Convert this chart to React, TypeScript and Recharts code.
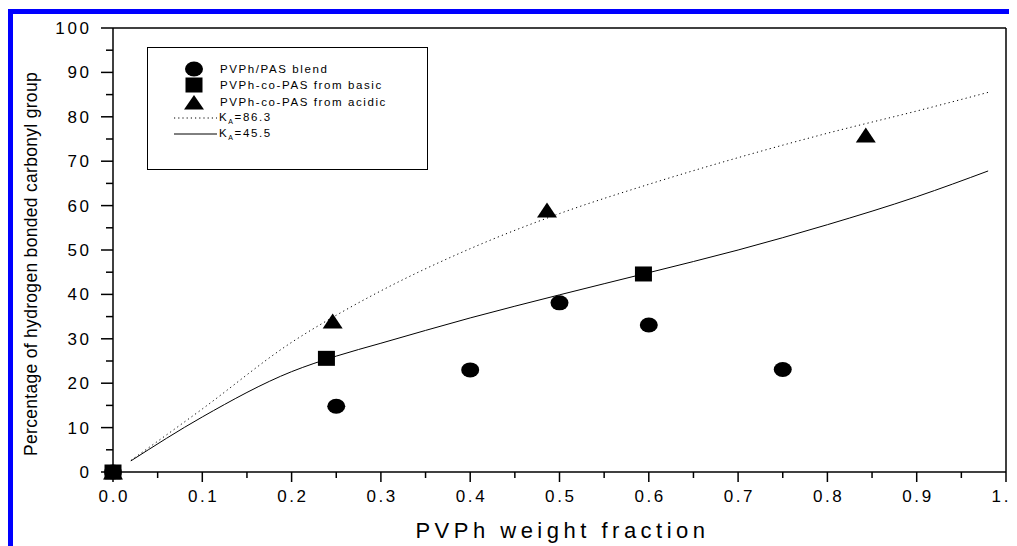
import React from "react"
import {
  ComposedChart,
  Line,
  Scatter,
  XAxis,
  YAxis,
  Legend,
  ReferenceLine,
} from "recharts"

// measured points
const blend = [
  { x: 0, y: 0 },
  { x: 0.25, y: 14.8 },
  { x: 0.4, y: 23 },
  { x: 0.5, y: 38.1 },
  { x: 0.6, y: 33.1 },
  { x: 0.75, y: 23.1 },
]
const basic = [
  { x: 0, y: 0 },
  { x: 0.239, y: 25.6 },
  { x: 0.594, y: 44.6 },
]
const acidic = [
  { x: 0, y: 0 },
  { x: 0.246, y: 34.0 },
  { x: 0.486, y: 59.0 },
  { x: 0.843, y: 75.9 },
]

// model curves
const ka863 = [
  { x: 0.02, y: 2.6 },
  { x: 0.1, y: 14.2 },
  { x: 0.2, y: 29.2 },
  { x: 0.25, y: 35.3 },
  { x: 0.3, y: 40.8 },
  { x: 0.4, y: 50.3 },
  { x: 0.5, y: 58.2 },
  { x: 0.6, y: 64.8 },
  { x: 0.7, y: 70.8 },
  { x: 0.8, y: 76.3 },
  { x: 0.9, y: 81.3 },
  { x: 0.98, y: 85.5 },
]
const ka455 = [
  { x: 0.02, y: 2.5 },
  { x: 0.1, y: 12.4 },
  { x: 0.2, y: 22.6 },
  { x: 0.25, y: 26.1 },
  { x: 0.3, y: 29.0 },
  { x: 0.4, y: 34.7 },
  { x: 0.5, y: 39.9 },
  { x: 0.6, y: 44.9 },
  { x: 0.7, y: 50.0 },
  { x: 0.8, y: 55.7 },
  { x: 0.9, y: 62.0 },
  { x: 0.98, y: 67.8 },
]

const xTicks = [0, 0.1, 0.2, 0.3, 0.4, 0.5, 0.6, 0.7, 0.8, 0.9, 1.0]
const xMinorTicks = [0.05, 0.15, 0.25, 0.35, 0.45, 0.55, 0.65, 0.75, 0.85, 0.95]
const yTicks = [0, 10, 20, 30, 40, 50, 60, 70, 80, 90, 100]
const yMinorTicks = [5, 15, 25, 35, 45, 55, 65, 75, 85, 95]

const allX = [...xTicks, ...xMinorTicks].sort((a, b) => a - b)
const allY = [...yTicks, ...yMinorTicks].sort((a, b) => a - b)

const font = "Arial, 'Liberation Sans', sans-serif"

const X_SIZE = 10
const X_MARGIN = 8
const Y_SIZE = 12
const Y_MARGIN = 9.5
const LW = 1.5

const Dot = (p: any) => <ellipse cx={p.cx} cy={p.cy} rx={9} ry={7.5} fill="#000" />
const Square = (p: any) => <rect x={p.cx - 8.5} y={p.cy - 7.5} width={17} height={15} fill="#000" />
const Tri = (p: any) => (
  <polygon points={`${p.cx - 10},${p.cy + 7.5} ${p.cx + 10},${p.cy + 7.5} ${p.cx},${p.cy - 7.5}`} fill="#000" />
)

function XTick(props: any) {
  const { x, y, payload } = props
  const major = xTicks.includes(payload.value)
  const y0 = y - X_SIZE - X_MARGIN
  return (
    <g>
      <line x1={x} x2={x} y1={y0} y2={y0 + (major ? X_SIZE : 6)} stroke="#000" strokeWidth={LW} />
      {major && (
        <text x={x + 1.3} y={y} dy="0.71em" textAnchor="middle" fontSize={17} fontFamily={font} letterSpacing={2.6} fill="#000">
          {payload.value.toFixed(1)}
        </text>
      )}
    </g>
  )
}

function YTick(props: any) {
  const { x, y, payload } = props
  const major = yTicks.includes(payload.value)
  const x0 = x + Y_SIZE + Y_MARGIN
  return (
    <g>
      <line x1={x0} x2={x0 - (major ? Y_SIZE : 7)} y1={y} y2={y} stroke="#000" strokeWidth={LW} />
      {major && (
        <text x={x} y={y} dy="0.355em" textAnchor="end" fontSize={17} fontFamily={font} letterSpacing={2.6} fill="#000">
          {payload.value}
        </text>
      )}
    </g>
  )
}

const legendRows = [
  { label: "PVPh/PAS blend", kind: "circle" },
  { label: "PVPh-co-PAS from basic", kind: "square" },
  { label: "PVPh-co-PAS from acidic", kind: "triangle" },
  { label: "86.3", kind: "dotted" },
  { label: "45.5", kind: "solid" },
]

function LegendBox() {
  return (
    <div
      style={{
        width: 281,
        height: 123,
        border: "1.5px solid #000",
        background: "#fff",
        fontFamily: font,
        fontSize: 11.5,
        letterSpacing: 1.6,
        color: "#000",
        paddingTop: 13,
        boxSizing: "border-box",
      }}
    >
      {legendRows.map((r) => (
        <div key={r.label} style={{ height: 16.3, display: "flex", alignItems: "center" }}>
          <svg width={72} height={16} style={{ flex: "none" }}>
            {r.kind === "circle" && <ellipse cx={46} cy={8} rx={9} ry={7.5} fill="#000" />}
            {r.kind === "square" && <rect x={37.5} y={0.5} width={17} height={15} fill="#000" />}
            {r.kind === "triangle" && <polygon points="36,15.5 56,15.5 46,1" fill="#000" />}
            {r.kind === "dotted" && (
              <line x1={26} x2={69} y1={8} y2={8} stroke="#000" strokeWidth={1} strokeDasharray="1.2 3" />
            )}
            {r.kind === "solid" && <line x1={26} x2={69} y1={8} y2={8} stroke="#000" strokeWidth={1} />}
          </svg>
          {r.kind === "dotted" || r.kind === "solid" ? (
            <span style={{ marginLeft: -1 }}>
              K<sub style={{ fontSize: 7, verticalAlign: -3 }}>A</sub>={r.label}
            </span>
          ) : (
            <span>{r.label}</span>
          )}
        </div>
      ))}
    </div>
  )
}

export default function App() {
  return (
    <div style={{ position: "relative", width: 1009, height: 538 }}>
      <div style={{ position: "absolute", left: 0, top: 1, width: 1009, height: 5, background: "#0000ff" }} />
      <div style={{ position: "absolute", left: 0, top: 1, width: 5, height: 537, background: "#0000ff" }} />
      <ComposedChart width={1009} height={538} margin={{ top: 20, right: 11, bottom: 0, left: 0 }}>
        <XAxis
          type="number"
          dataKey="x"
          domain={[0, 1]}
          ticks={allX}
          interval={0}
          tick={<XTick />}
          tickLine={false}
          axisLine={{ stroke: "#000", strokeWidth: LW }}
          tickSize={X_SIZE}
          tickMargin={X_MARGIN}
          height={74}
          label={{
            content: ({ viewBox }: any) => (
              <text
                x={viewBox.x + viewBox.width / 2 + 3}
                y={viewBox.y + 66}
                textAnchor="middle"
                fontSize={22}
                fontFamily={font}
                letterSpacing={4.5}
                fill="#000"
              >
                PVPh weight fraction
              </text>
            ),
          }}
        />
        <YAxis
          type="number"
          domain={[0, 100]}
          ticks={allY}
          interval={0}
          tick={<YTick />}
          tickLine={false}
          axisLine={{ stroke: "#000", strokeWidth: LW }}
          tickSize={Y_SIZE}
          tickMargin={Y_MARGIN}
          width={105}
          label={{
            content: ({ viewBox }: any) => {
              const cx = viewBox.x + 23
              const cy = viewBox.y + viewBox.height / 2 + 14
              return (
                <text
                  x={cx}
                  y={cy}
                  transform={`rotate(-90, ${cx}, ${cy})`}
                  textAnchor="middle"
                  dominantBaseline="central"
                  fontSize={17.5}
                  fontFamily={font}
                  letterSpacing={0.3}
                  fill="#000"
                >
                  Percentage of hydrogen bonded carbonyl group
                </text>
              )
            },
          }}
        />
        <ReferenceLine y={100} stroke="#000" strokeWidth={LW} ifOverflow="visible" />
        <ReferenceLine x={1} stroke="#000" strokeWidth={LW} ifOverflow="visible" />
        <Legend
          layout="vertical"
          align="center"
          verticalAlign="middle"
          wrapperStyle={{ left: 139, top: 39, width: 281, height: 123 }}
          content={() => <LegendBox />}
        />
        <Line
          data={ka863}
          dataKey="y"
          type="monotone"
          stroke="#000"
          strokeWidth={1}
          strokeDasharray="1.2 3.2"
          dot={false}
          activeDot={false}
          isAnimationActive={false}
        />
        <Line
          data={ka455}
          dataKey="y"
          type="monotone"
          stroke="#000"
          strokeWidth={1}
          dot={false}
          activeDot={false}
          isAnimationActive={false}
        />
        <Scatter data={blend} dataKey="y" shape={Dot} isAnimationActive={false} />
        <Scatter data={basic} dataKey="y" shape={Square} isAnimationActive={false} />
        <Scatter data={acidic} dataKey="y" shape={Tri} isAnimationActive={false} />
      </ComposedChart>
    </div>
  )
}
